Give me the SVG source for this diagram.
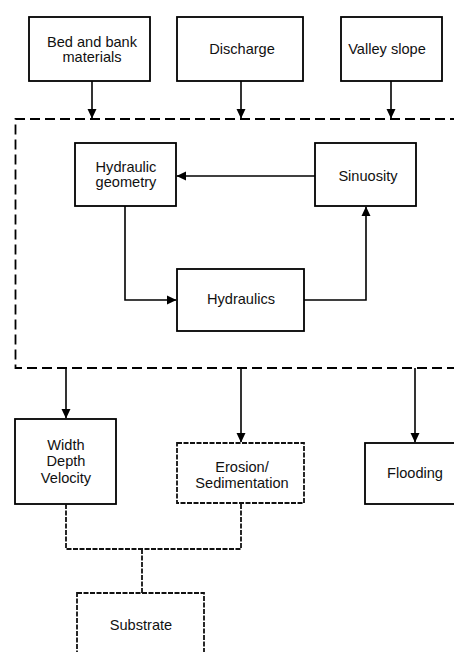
<svg xmlns="http://www.w3.org/2000/svg" width="454" height="652" viewBox="0 0 454 652">
<defs>
<style>
.box{fill:#fff;stroke:#000;stroke-width:1.8}
.dbox{fill:#fff;stroke:#111;stroke-width:1.8;stroke-dasharray:5 1.5}
.big{fill:none;stroke:#000;stroke-width:1.8;stroke-dasharray:10 5}
.ln{fill:none;stroke:#000;stroke-width:1.6}
.dl{fill:none;stroke:#111;stroke-width:1.8;stroke-dasharray:5 1.5}
text{font-family:"Liberation Sans",Arial,sans-serif;font-size:14.6px;fill:#111;text-anchor:middle}
</style>
<marker id="ah" markerWidth="10" markerHeight="10" refX="9" refY="5" orient="auto" markerUnits="userSpaceOnUse">
<path d="M0,0.5 L9.5,5 L0,9.5 Z" fill="#000"/>
</marker>
</defs>
<rect width="454" height="652" fill="#fff"/>
<g id="frame"><path class="big" d="M460,119 H15.5 V368 H460"/></g>
<g id="n-bed"><rect class="box" x="29" y="17" width="121" height="64"/><text x="92" y="47">Bed and bank</text><text x="92" y="62">materials</text></g>
<g id="n-discharge"><rect class="box" x="177" y="17" width="126" height="64"/><text x="242" y="54">Discharge</text></g>
<g id="n-valley"><rect class="box" x="341" y="17" width="101" height="64"/><text x="387" y="54">Valley slope</text></g>
<g id="n-hgeom"><rect class="box" x="75" y="143" width="101" height="63"/><text x="126" y="172">Hydraulic</text><text x="126" y="187">geometry</text></g>
<g id="n-sinuosity"><rect class="box" x="315" y="143" width="101" height="63"/><text x="368" y="181">Sinuosity</text></g>
<g id="n-hydraulics"><rect class="box" x="177" y="269" width="127" height="62"/><text x="241" y="304">Hydraulics</text></g>
<g id="n-wdv"><rect class="box" x="15" y="419" width="101" height="85"/><text x="66" y="450">Width</text><text x="66" y="466">Depth</text><text x="66" y="483">Velocity</text></g>
<g id="n-erosion"><rect class="dbox" x="177" y="443" width="127" height="60"/><text x="242" y="472">Erosion/</text><text x="242" y="488">Sedimentation</text></g>
<g id="n-flooding"><rect class="box" x="365" y="443" width="100" height="61"/><text x="415" y="478">Flooding</text></g>
<g id="n-substrate"><rect class="dbox" x="77" y="593" width="127" height="70"/><text x="141" y="630">Substrate</text></g>
<g id="connectors">
<line class="ln" x1="92" y1="81" x2="92" y2="118" marker-end="url(#ah)"/>
<line class="ln" x1="241" y1="81" x2="241" y2="118" marker-end="url(#ah)"/>
<line class="ln" x1="391" y1="81" x2="391" y2="118" marker-end="url(#ah)"/>
<line class="ln" x1="315" y1="176" x2="177" y2="176" marker-end="url(#ah)"/>
<path class="ln" d="M125,206 V300 H176" marker-end="url(#ah)"/>
<path class="ln" d="M304,300 H366 V207" marker-end="url(#ah)"/>
<line class="ln" x1="66" y1="368" x2="66" y2="418" marker-end="url(#ah)"/>
<line class="ln" x1="241" y1="368" x2="241" y2="442" marker-end="url(#ah)"/>
<line class="ln" x1="415" y1="368" x2="415" y2="442" marker-end="url(#ah)"/>
<path class="dl" d="M66,504 V549 H241 V503"/>
<line class="dl" x1="142" y1="549" x2="142" y2="593"/>
</g>
</svg>
